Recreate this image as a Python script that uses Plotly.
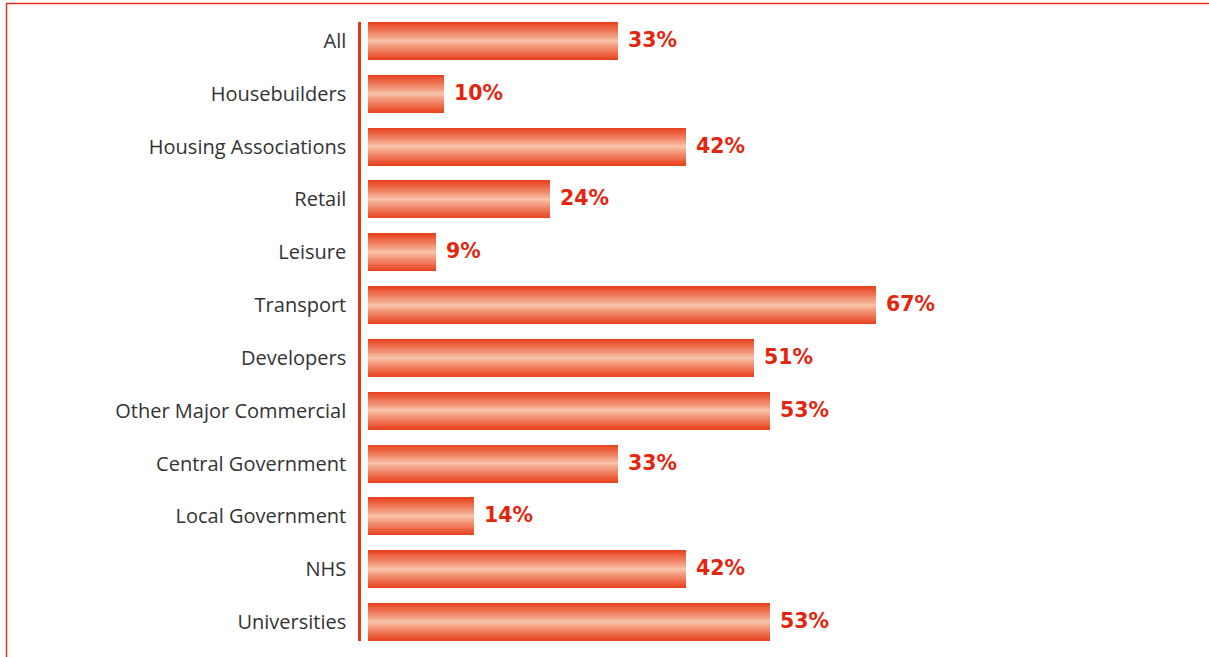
import plotly.graph_objects as go

# Share of respondents by client sector
sectors = [
    "All", "Housebuilders", "Housing Associations", "Retail", "Leisure",
    "Transport", "Developers", "Other Major Commercial", "Central Government",
    "Local Government", "NHS", "Universities",
]
shares = [33, 10, 42, 24, 9, 67, 51, 53, 33, 14, 42, 53]

RED = "#e8321e"
EDGE = (232, 66, 30)     # bar colour at top and bottom edges
CORE = (249, 200, 175)   # bar colour along the centre line
BAR_W = 0.72
LAYERS = 22

W, H = 1209, 657
L, R, T, B = 361, 29, 22, 16
PX_PER_UNIT = 7.576
plot_w = W - L - R
x0 = -7 / PX_PER_UNIT
x1 = x0 + plot_w / PX_PER_UNIT


def mix(a, b, t):
    return "rgb({},{},{})".format(*[round(a[i] + (b[i] - a[i]) * t) for i in range(3)])


fig = go.Figure()

# Stack progressively thinner bars to build a vertical edge-to-centre gradient
for k in range(LAYERS):
    frac = 1 - k / LAYERS
    fig.add_trace(go.Bar(
        y=sectors, x=shares, orientation="h",
        width=BAR_W * frac,
        marker=dict(color=mix(CORE, EDGE, frac ** 0.9), line=dict(width=0)),
        hoverinfo="skip" if k else "x+y",
        showlegend=False,
    ))

for s, v in zip(sectors, shares):
    fig.add_annotation(
        x=v, y=s, text=f"{v}%", showarrow=False,
        xanchor="left", yanchor="middle", xshift=8, yshift=1,
        font=dict(family="DejaVu Sans", size=20.5, color="#e3260e", weight="bold"),
    )

# Outer frame: top and left rules
fx = lambda px: (px - L) / plot_w
fy = lambda py: 1 - (py - T) / (H - T - B)
fig.add_shape(type="line", xref="paper", yref="paper",
              x0=fx(6), x1=fx(W + 10), y0=fy(3.5), y1=fy(3.5),
              line=dict(color=RED, width=1.5))
fig.add_shape(type="line", xref="paper", yref="paper",
              x0=fx(6.5), x1=fx(6.5), y0=fy(3.5), y1=fy(H + 10),
              line=dict(color=RED, width=1.5))

fig.update_layout(
    width=W, height=H,
    margin=dict(l=L, r=R, t=T, b=B),
    barmode="overlay", bargap=0,
    plot_bgcolor="white", paper_bgcolor="white",
    xaxis=dict(range=[x0, x1], visible=False),
    yaxis=dict(
        categoryorder="array", categoryarray=sectors,
        range=[len(sectors) - 1 + 0.36, -0.36],
        showline=True, linecolor=RED, linewidth=2.5,
        showgrid=False, zeroline=False, ticks="",
        ticklabelstandoff=8,
        tickfont=dict(family="Open Sans", size=20, color="#333333"),
    ),
)

fig.write_html("out.html")
